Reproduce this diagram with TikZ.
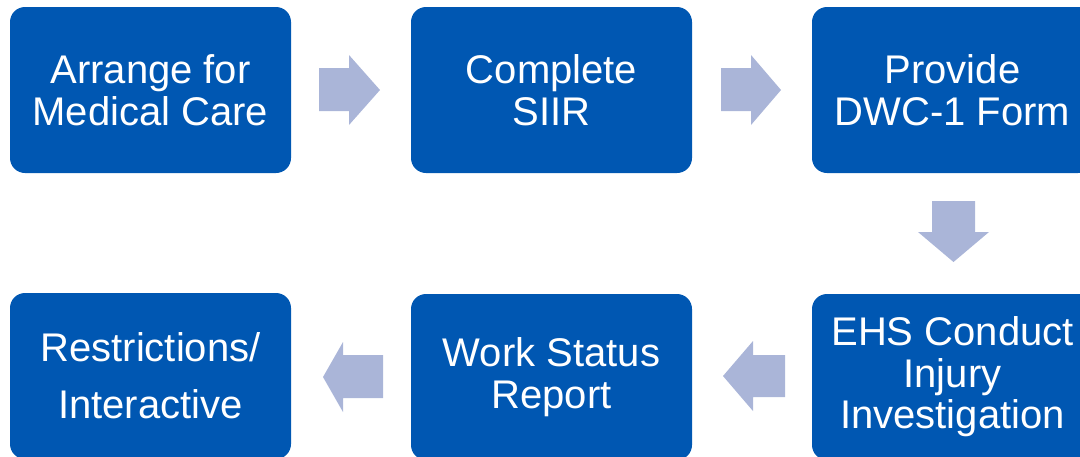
\documentclass[tikz,border=0pt]{standalone}
\usepackage{fontspec}
\setmainfont{Liberation Sans}
\definecolor{stepblue}{HTML}{0057B2}
\definecolor{flowgrey}{HTML}{AAB5D8}
\begin{document}
\begin{tikzpicture}[x=1pt,y=-1pt,
  stepbox/.style={fill=stepblue, rounded corners=15pt, minimum width=281pt,
    minimum height=166pt, inner sep=0pt, align=center, text=white,
    font=\fontsize{40}{41.5}\selectfont},
  flowarrow/.style={fill=flowgrey}]
\useasboundingbox (0,0) rectangle (1080,456);
\clip (0,0) rectangle (1080,456);
% process steps
\node[stepbox] (arrange) at (150.5,90) {Arrange for\\Medical Care};
\node[stepbox] (siir)    at (551.5,90) {Complete\\SIIR};
\node[stepbox] (dwc)     at (952.5,90) {Provide\\DWC-1 Form};
\node[stepbox] (ehs)     at (952.5,377) {EHS Conduct\\Injury\\Investigation};
\node[stepbox] (wsr)     at (551.5,377) {Work Status\\Report};
\node[stepbox, font=\fontsize{40}{57}\selectfont] (restr) at (150.5,376) {Restrictions/\\Interactive};
% block arrows between the steps
\fill[flowarrow] (319,68) -- (349,68) -- (349,55) -- (380,90) -- (349,125) -- (349,111) -- (319,111) -- cycle;
\fill[flowarrow] (721,68) -- (751,68) -- (751,55) -- (781,90) -- (751,125) -- (751,111) -- (721,111) -- cycle;
\fill[flowarrow] (932,201) -- (975,201) -- (975,232) -- (989,232) -- (953.5,262) -- (918,232) -- (932,232) -- cycle;
\fill[flowarrow] (785,355) -- (753,355) -- (753,341) -- (723,376) -- (753,411) -- (753,397) -- (785,397) -- cycle;
\fill[flowarrow] (383,355) -- (343,355) -- (343,342) -- (323,377) -- (343,412) -- (343,398) -- (383,398) -- cycle;
\end{tikzpicture}
\end{document}
